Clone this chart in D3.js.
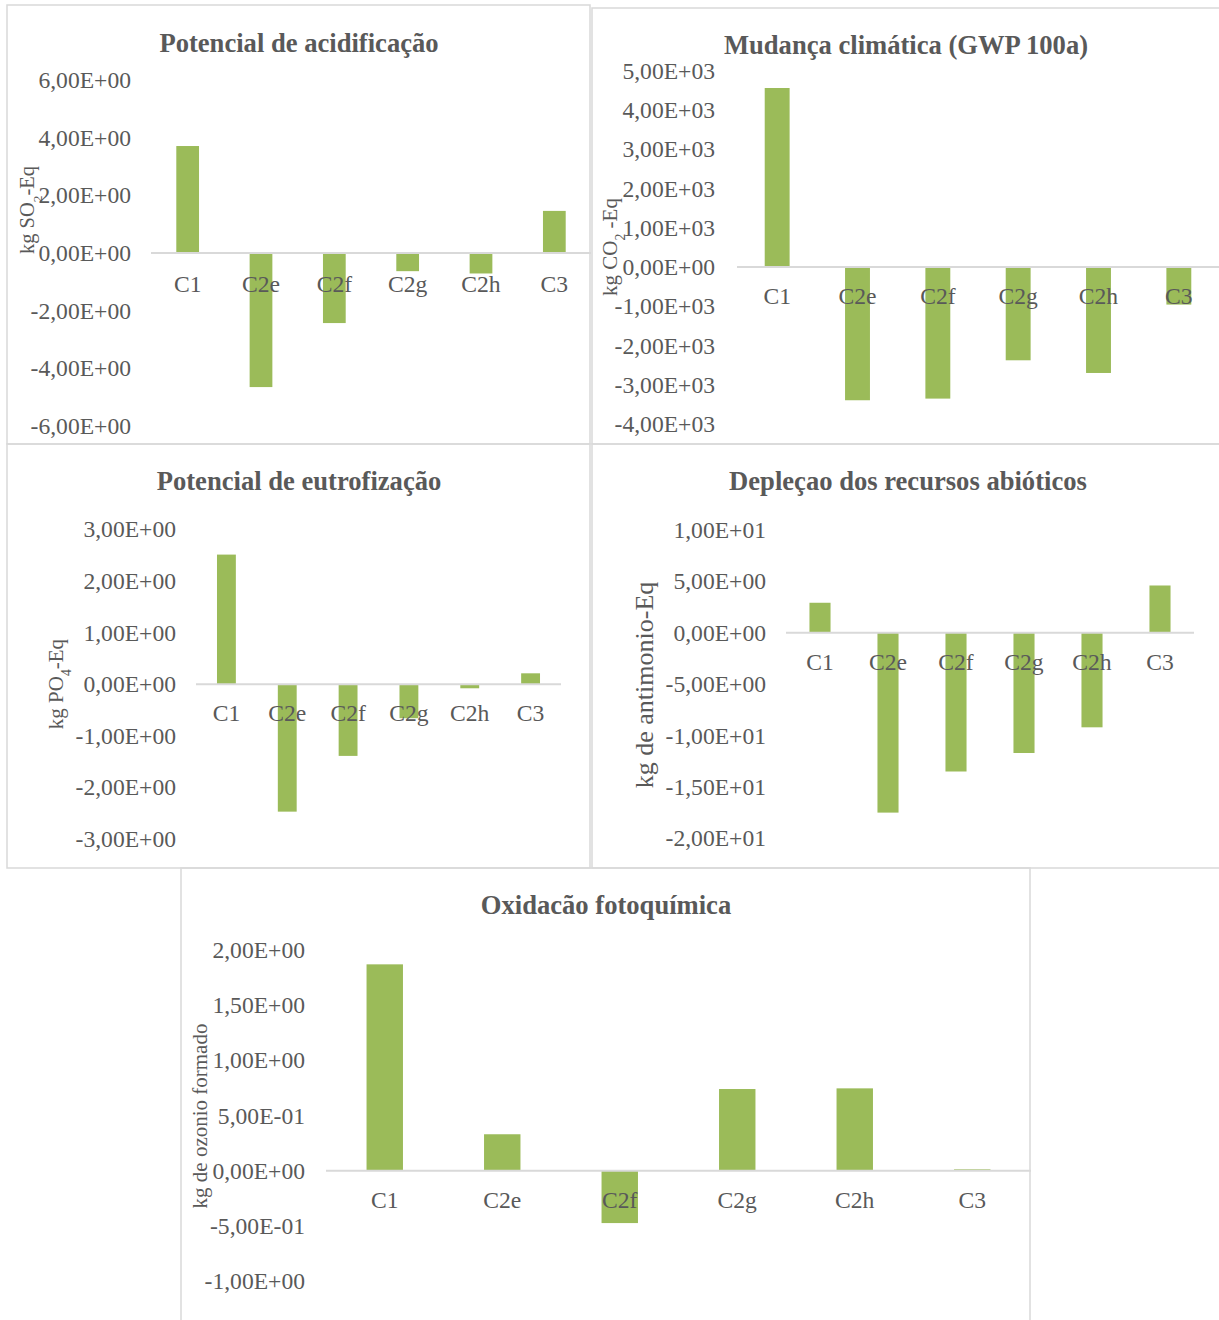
<!DOCTYPE html>
<html>
<head>
<meta charset="utf-8">
<script src="https://cdn.jsdelivr.net/npm/d3@7"></script>
<style>
  body { margin: 0; background: #fff; }
  svg { display: block; }
</style>
</head>
<body>
<svg id="chart" width="1219" height="1320"></svg>
<script>
// Impact categories per scenario
const categories = ["C1", "C2e", "C2f", "C2g", "C2h", "C3"];

// Impact values per scenario
const acidificacao = [3.71, -4.65, -2.43, -0.63, -0.71, 1.46];          // kg SO2-Eq
const mudancaClimatica = [4559, -3395, -3353, -2377, -2700, -958];      // kg CO2-Eq
const eutrofizacao = [2.51, -2.47, -1.39, -0.66, -0.08, 0.21];          // kg PO4-Eq
const deplecao = [2.92, -17.5, -13.5, -11.7, -9.2, 4.6];                // kg antimonio-Eq
const oxidacao = [1.87, 0.33, -0.475, 0.74, 0.746, 0.012];              // kg ozonio

// Tick values of each value axis
const ticksAcid = [-6, -4, -2, 0, 2, 4, 6];
const ticksClima = [-4000, -3000, -2000, -1000, 0, 1000, 2000, 3000, 4000, 5000];
const ticksEutro = [-3, -2, -1, 0, 1, 2, 3];
const ticksDeple = [-20, -15, -10, -5, 0, 5, 10];
const ticksOxid = [-1, -0.5, 0, 0.5, 1, 1.5, 2];

const FONT = "'Liberation Serif', 'Times New Roman', serif";
const TEXT = "#595959";
const BAR = "#9BBB59";
const GRID = "#D9D9D9";

// Scientific notation with decimal comma: 6,00E+00
function sci(v) {
  const [m, e] = v.toExponential(2).split("e");
  const sign = e[0] === "-" ? "-" : "+";
  const digits = e.replace(/^[+-]/, "").padStart(2, "0");
  return m.replace(".", ",") + "E" + sign + digits;
}

const svg = d3.select("#chart");

// Panel frames
const frames = [
  [7, 5, 583, 439],
  [592, 8, 630, 436],
  [7, 444, 583, 424],
  [592, 444, 630, 424],
  [181, 868, 849, 460]
];
svg.append("g").selectAll("rect").data(frames).join("rect")
  .attr("x", d => d[0]).attr("y", d => d[1])
  .attr("width", d => d[2]).attr("height", d => d[3])
  .attr("fill", "none").attr("stroke", GRID).attr("stroke-width", 1.5);

function drawChart(o) {
  const g = svg.append("g");
  const x = d3.scaleBand().domain(categories).range([o.x0, o.x1]).padding(0);
  const y = d3.scaleLinear().domain(o.domain).range([o.yBottom, o.yTop]);
  const bw = x.bandwidth() * 0.31;

  // value axis (labels only)
  const ya = g.append("g")
    .attr("transform", `translate(${o.tickX},0)`)
    .call(d3.axisLeft(y).tickValues(o.ticks).tickFormat(sci).tickSize(0).tickPadding(0));
  ya.select(".domain").remove();
  ya.attr("font-family", FONT).attr("font-size", 23.6);
  ya.selectAll("text").attr("fill", TEXT);

  // bars
  g.append("g").selectAll("rect").data(o.values).join("rect")
    .attr("x", (d, i) => x(categories[i]) + x.bandwidth() / 2 - bw / 2)
    .attr("y", d => y(Math.max(0, d)))
    .attr("width", bw)
    .attr("height", d => Math.abs(y(d) - y(0)))
    .attr("fill", BAR);

  // zero line
  g.append("line")
    .attr("x1", o.x0).attr("x2", o.x1)
    .attr("y1", y(0)).attr("y2", y(0))
    .attr("stroke", GRID).attr("stroke-width", 2);

  // category axis at zero
  const xa = g.append("g")
    .attr("transform", `translate(0,${y(0)})`)
    .call(d3.axisBottom(x).tickSize(0).tickPadding(o.catPad));
  xa.select(".domain").remove();
  xa.attr("font-family", FONT).attr("font-size", 23.6);
  xa.selectAll("text").attr("fill", TEXT);

  // title
  g.append("text")
    .attr("x", o.titleX).attr("y", o.titleY)
    .attr("text-anchor", "middle")
    .attr("font-family", FONT).attr("font-size", 26.6).attr("font-weight", "bold")
    .attr("fill", TEXT)
    .text(o.title);

  // axis title, with optional subscript part
  const t = g.append("text")
    .attr("transform", `translate(${o.labelX},${o.labelY}) rotate(-90)`)
    .attr("text-anchor", "middle")
    .attr("font-family", FONT).attr("font-size", o.labelSize)
    .attr("fill", TEXT);
  o.label.forEach(part => {
    const s = t.append("tspan").text(part.t);
    if (part.sub) s.attr("font-size", o.labelSize * 0.65).attr("baseline-shift", "sub");
  });
}

drawChart({
  title: "Potencial de acidificação", titleX: 299, titleY: 52,
  values: acidificacao, ticks: ticksAcid, domain: [-6, 6],
  x0: 151, x1: 591, yBottom: 426, yTop: 80, tickX: 131, catPad: 22,
  label: [{t: "kg SO"}, {t: "2", sub: true}, {t: "-Eq"}],
  labelX: 34, labelY: 210, labelSize: 20.5
});

drawChart({
  title: "Mudança climática (GWP 100a)", titleX: 906, titleY: 54,
  values: mudancaClimatica, ticks: ticksClima, domain: [-4000, 5000],
  x0: 737, x1: 1219, yBottom: 424, yTop: 70.7, tickX: 715, catPad: 20,
  label: [{t: "kg CO"}, {t: "2", sub: true}, {t: " -Eq"}],
  labelX: 617, labelY: 247, labelSize: 21
});

drawChart({
  title: "Potencial de eutrofização", titleX: 299, titleY: 490,
  values: eutrofizacao, ticks: ticksEutro, domain: [-3, 3],
  x0: 196, x1: 561, yBottom: 839, yTop: 529.3, tickX: 176, catPad: 20,
  label: [{t: "kg PO"}, {t: "4", sub: true}, {t: "-Eq"}],
  labelX: 63, labelY: 684, labelSize: 21
});

drawChart({
  title: "Depleçao dos recursos abióticos", titleX: 908, titleY: 490,
  values: deplecao, ticks: ticksDeple, domain: [-20, 10],
  x0: 786, x1: 1194, yBottom: 838.3, yTop: 530, tickX: 766, catPad: 20,
  label: [{t: "kg de antimonio-Eq"}],
  labelX: 653, labelY: 685, labelSize: 26
});

drawChart({
  title: "Oxidacão fotoquímica", titleX: 606, titleY: 914,
  values: oxidacao, ticks: ticksOxid, domain: [-1, 2],
  x0: 326, x1: 1031, yBottom: 1281, yTop: 950, tickX: 305, catPad: 21,
  label: [{t: "kg de ozonio formado"}],
  labelX: 207, labelY: 1116, labelSize: 21
});
</script>
</body>
</html>
